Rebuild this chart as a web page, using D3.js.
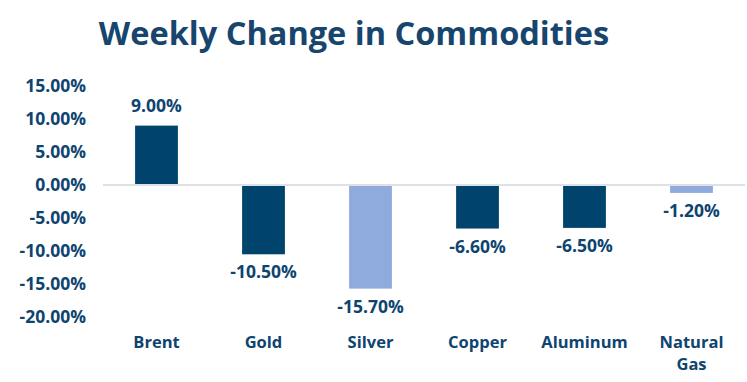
<!DOCTYPE html>
<html>
<head>
<meta charset="utf-8">
<script src="https://cdn.jsdelivr.net/npm/d3@7"></script>
<style>
  html, body { margin: 0; padding: 0; background: #ffffff; }
  svg { display: block; }
  text { font-family: "Open Sans", "DejaVu Sans", sans-serif; font-weight: 700; fill: #0E4470; }
</style>
</head>
<body>
<svg id="chart" width="747" height="382"></svg>
<script>
const categories = ["Brent", "Gold", "Silver", "Copper", "Aluminum", "Natural Gas"];
const values = [9.0, -10.5, -15.7, -6.6, -6.5, -1.2];
const barColors = ["#00446E", "#00446E", "#8FAADC", "#00446E", "#00446E", "#8FAADC"];
const yTicks = [15, 10, 5, 0, -5, -10, -15, -20];
const titleText = "Weekly Change in Commodities";

const svg = d3.select("#chart");
const plot = { left: 103, right: 745, top: 86, bottom: 317 };

const x = d3.scaleBand().domain(categories).range([plot.left, plot.right]).paddingInner(0.6).paddingOuter(0.3);
const y = d3.scaleLinear().domain([-20, 15]).range([plot.bottom, plot.top]);

// title
svg.append("text")
  .attr("x", 354).attr("y", 45)
  .attr("text-anchor", "middle")
  .style("font-size", "32.5px")
  .style("fill", "#17456E")
  .text(titleText);

// y axis
const yAxis = d3.axisLeft(y).tickValues(yTicks).tickSize(0).tickPadding(0)
  .tickFormat(d => d.toFixed(2) + "%");
const gy = svg.append("g").attr("transform", `translate(86,0)`).call(yAxis);
gy.select(".domain").remove();
gy.selectAll("text").style("font-size", "17.5px").style("font-family", null).attr("fill", null);

// bars
svg.append("g").selectAll("rect").data(categories).join("rect")
  .attr("x", d => x(d))
  .attr("width", x.bandwidth())
  .attr("y", (d, i) => y(Math.max(0, values[i])))
  .attr("height", (d, i) => Math.abs(y(values[i]) - y(0)))
  .attr("fill", (d, i) => barColors[i]);

// zero line
svg.append("line")
  .attr("x1", plot.left).attr("x2", plot.right)
  .attr("y1", y(0)).attr("y2", y(0))
  .attr("stroke", "#DDE2E8").attr("stroke-width", 2);

// data labels
svg.append("g").selectAll("text").data(categories).join("text")
  .attr("x", d => x(d) + x.bandwidth() / 2)
  .attr("y", (d, i) => values[i] >= 0 ? y(values[i]) - 14 : y(values[i]) + 24)
  .attr("text-anchor", "middle")
  .style("font-size", "17.5px")
  .text((d, i) => values[i].toFixed(2) + "%");

// x labels
const gx = svg.append("g");
categories.forEach((c, i) => {
  const words = c.split(" ");
  words.forEach((w, j) => {
    gx.append("text")
      .attr("x", x(c) + x.bandwidth() / 2)
      .attr("y", 348 + j * 22)
      .attr("text-anchor", "middle")
      .style("font-size", "16.5px")
      .text(w);
  });
});
</script>
</body>
</html>
